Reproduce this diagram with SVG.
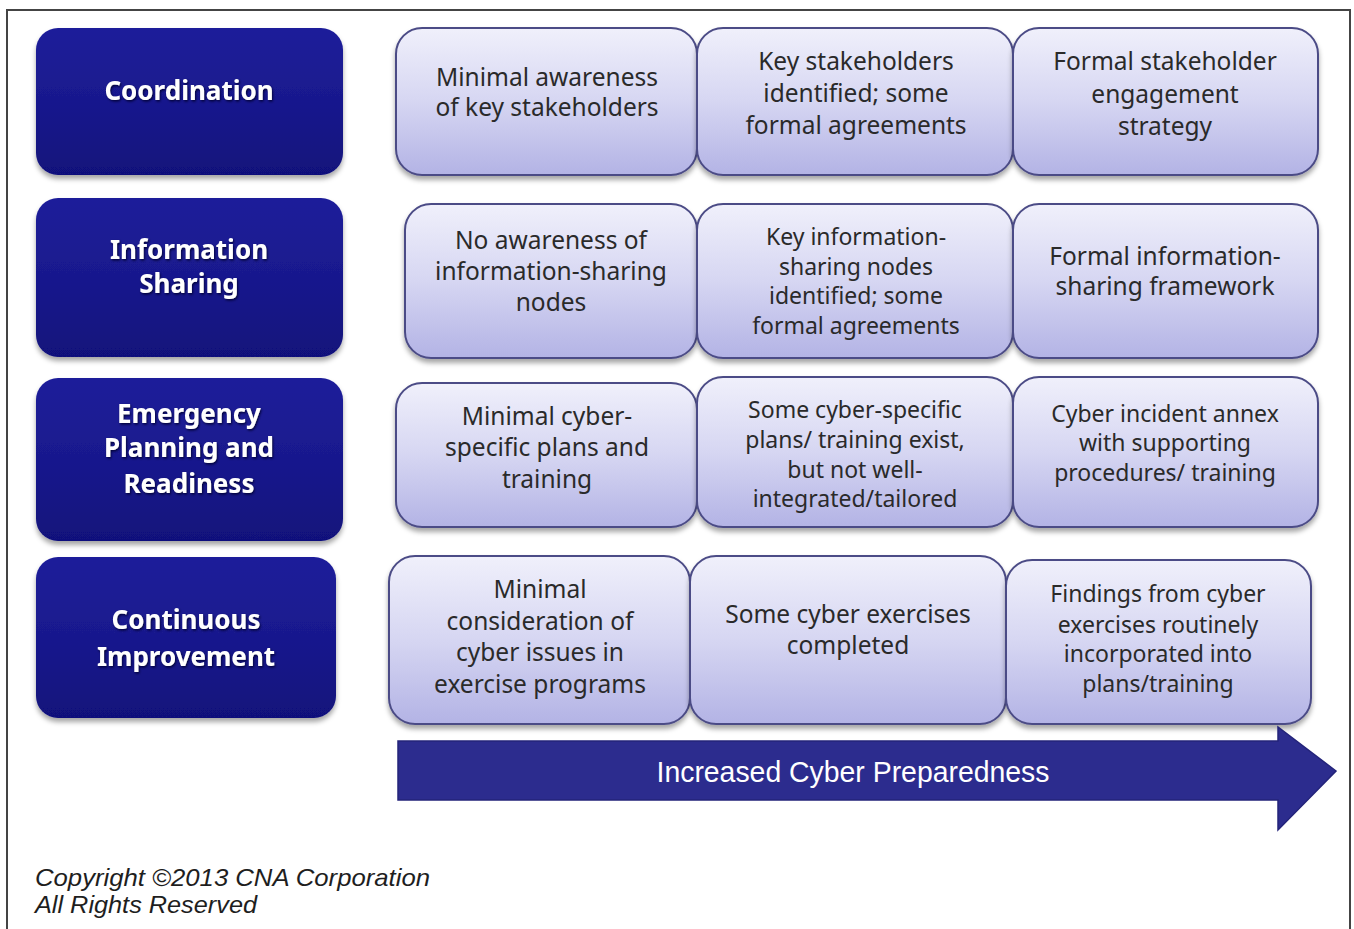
<svg xmlns="http://www.w3.org/2000/svg" width="1354" height="929" viewBox="0 0 1354 929">
  <defs>
    <linearGradient id="darkFill" x1="0" y1="0" x2="0" y2="1">
      <stop offset="0" stop-color="#1F1F9A"/>
      <stop offset="0.55" stop-color="#18188C"/>
      <stop offset="1" stop-color="#11117B"/>
    </linearGradient>
    <linearGradient id="lightFill" x1="0" y1="0" x2="0" y2="1">
      <stop offset="0" stop-color="#F0F0FB"/>
      <stop offset="0.5" stop-color="#D6D6F2"/>
      <stop offset="1" stop-color="#B3B3E5"/>
    </linearGradient>
    <filter id="boxShadow" x="-10%" y="-10%" width="120%" height="130%">
      <feDropShadow dx="0" dy="4" stdDeviation="2.5" flood-color="#000" flood-opacity="0.35"/>
    </filter>
    <filter id="textShadow" x="-10%" y="-20%" width="120%" height="150%">
      <feDropShadow dx="1" dy="1.5" stdDeviation="1" flood-color="#000030" flood-opacity="0.9"/>
    </filter>
  </defs>
  <style>
    .dark { fill: url(#darkFill); filter: url(#boxShadow); }
    .light { fill: url(#lightFill); stroke: #4C4C86; stroke-width: 2; filter: url(#boxShadow); }
    .dt { font-family: "Noto Sans", "Open Sans", sans-serif; font-weight: 700; font-size: 26px; fill: #FFFFFF; text-anchor: middle; filter: url(#textShadow); }
    .lt { font-family: "Noto Sans", "Open Sans", sans-serif; font-size: 24.5px; fill: #2A2A2A; text-anchor: middle; }
    .lts { font-family: "Noto Sans", "Open Sans", sans-serif; font-size: 23px; fill: #2A2A2A; text-anchor: middle; }
    .arrowText { font-family: "Liberation Sans", Arial, sans-serif; font-size: 29px; fill: #FFFFFF; text-anchor: middle; }
    .copy { font-family: "Liberation Sans", Arial, sans-serif; font-style: italic; font-size: 24px; fill: #1E1E1E; }
  </style>

  <!-- page background and frame -->
  <rect x="0" y="0" width="1354" height="929" fill="#FFFFFF"/>
  <path d="M7 935 V10 H1350 V935" fill="none" stroke="#444444" stroke-width="2"/>

  <!-- category boxes -->
  <g id="cat-coordination">
    <rect class="dark" x="36" y="28" width="307" height="147" rx="22"/>
    <text class="dt" x="189" y="100">Coordination</text>
  </g>
  <g id="cat-information-sharing">
    <rect class="dark" x="36" y="198" width="307" height="159" rx="22"/>
    <text class="dt" x="189" y="259">Information</text>
    <text class="dt" x="189" y="293">Sharing</text>
  </g>
  <g id="cat-emergency-planning">
    <rect class="dark" x="36" y="378" width="307" height="163" rx="22"/>
    <text class="dt" x="189" y="423">Emergency</text>
    <text class="dt" x="189" y="457">Planning and</text>
    <text class="dt" x="189" y="493">Readiness</text>
  </g>
  <g id="cat-continuous-improvement">
    <rect class="dark" x="36" y="557" width="300" height="161" rx="22"/>
    <text class="dt" x="186" y="629">Continuous</text>
    <text class="dt" x="186" y="666">Improvement</text>
  </g>

  <!-- row 1: coordination levels -->
  <g id="coord-1">
    <rect class="light" x="396" y="28" width="301" height="147" rx="26"/>
    <text class="lt" x="547" y="86">Minimal awareness</text>
    <text class="lt" x="547" y="116">of key stakeholders</text>
  </g>
  <g id="coord-2">
    <rect class="light" x="697" y="28" width="316" height="147" rx="26"/>
    <text class="lt" x="856" y="70">Key stakeholders</text>
    <text class="lt" x="856" y="102">identified; some</text>
    <text class="lt" x="856" y="134">formal agreements</text>
  </g>
  <g id="coord-3">
    <rect class="light" x="1013" y="28" width="305" height="147" rx="26"/>
    <text class="lt" x="1165" y="70">Formal stakeholder</text>
    <text class="lt" x="1165" y="103">engagement</text>
    <text class="lt" x="1165" y="135">strategy</text>
  </g>

  <!-- row 2: information sharing levels -->
  <g id="info-1">
    <rect class="light" x="405" y="204" width="292" height="154" rx="26"/>
    <text class="lt" x="551" y="249">No awareness of</text>
    <text class="lt" x="551" y="280">information-sharing</text>
    <text class="lt" x="551" y="311">nodes</text>
  </g>
  <g id="info-2">
    <rect class="light" x="697" y="204" width="316" height="154" rx="26"/>
    <text class="lts" x="856" y="245">Key information-</text>
    <text class="lts" x="856" y="275">sharing nodes</text>
    <text class="lts" x="856" y="304">identified; some</text>
    <text class="lts" x="856" y="334">formal agreements</text>
  </g>
  <g id="info-3">
    <rect class="light" x="1013" y="204" width="305" height="154" rx="26"/>
    <text class="lt" x="1165" y="265">Formal information-</text>
    <text class="lt" x="1165" y="295">sharing framework</text>
  </g>

  <!-- row 3: emergency planning levels -->
  <g id="plan-1">
    <rect class="light" x="396" y="383" width="301" height="144" rx="26"/>
    <text class="lt" x="547" y="425">Minimal cyber-</text>
    <text class="lt" x="547" y="456">specific plans and</text>
    <text class="lt" x="547" y="488">training</text>
  </g>
  <g id="plan-2">
    <rect class="light" x="697" y="377" width="316" height="150" rx="26"/>
    <text class="lts" x="855" y="418">Some cyber-specific</text>
    <text class="lts" x="855" y="448">plans/ training exist,</text>
    <text class="lts" x="855" y="478">but not well-</text>
    <text class="lts" x="855" y="507">integrated/tailored</text>
  </g>
  <g id="plan-3">
    <rect class="light" x="1013" y="377" width="305" height="150" rx="26"/>
    <text class="lts" x="1165" y="422">Cyber incident annex</text>
    <text class="lts" x="1165" y="451">with supporting</text>
    <text class="lts" x="1165" y="481">procedures/ training</text>
  </g>

  <!-- row 4: continuous improvement levels -->
  <g id="improve-1">
    <rect class="light" x="389" y="556" width="301" height="168" rx="26"/>
    <text class="lt" x="540" y="598">Minimal</text>
    <text class="lt" x="540" y="630">consideration of</text>
    <text class="lt" x="540" y="661">cyber issues in</text>
    <text class="lt" x="540" y="693">exercise programs</text>
  </g>
  <g id="improve-2">
    <rect class="light" x="690" y="556" width="316" height="168" rx="26"/>
    <text class="lt" x="848" y="623">Some cyber exercises</text>
    <text class="lt" x="848" y="654">completed</text>
  </g>
  <g id="improve-3">
    <rect class="light" x="1006" y="560" width="305" height="164" rx="26"/>
    <text class="lts" x="1158" y="602">Findings from cyber</text>
    <text class="lts" x="1158" y="633">exercises routinely</text>
    <text class="lts" x="1158" y="662">incorporated into</text>
    <text class="lts" x="1158" y="692">plans/training</text>
  </g>

  <!-- progression arrow -->
  <g id="connectors">
    <path d="M398 741 H1278 V727 L1336 771 L1278 830 V800 H398 Z" fill="#2C2C8E" stroke="#23237A" stroke-width="1.5"/>
    <text class="arrowText" x="853" y="782" textLength="393" lengthAdjust="spacingAndGlyphs">Increased Cyber Preparedness</text>
  </g>

  <!-- footer -->
  <g id="copyright">
    <text class="copy" x="35" y="886" textLength="395" lengthAdjust="spacingAndGlyphs">Copyright ©2013 CNA Corporation</text>
    <text class="copy" x="35" y="913" textLength="222" lengthAdjust="spacingAndGlyphs">All Rights Reserved</text>
  </g>
</svg>
